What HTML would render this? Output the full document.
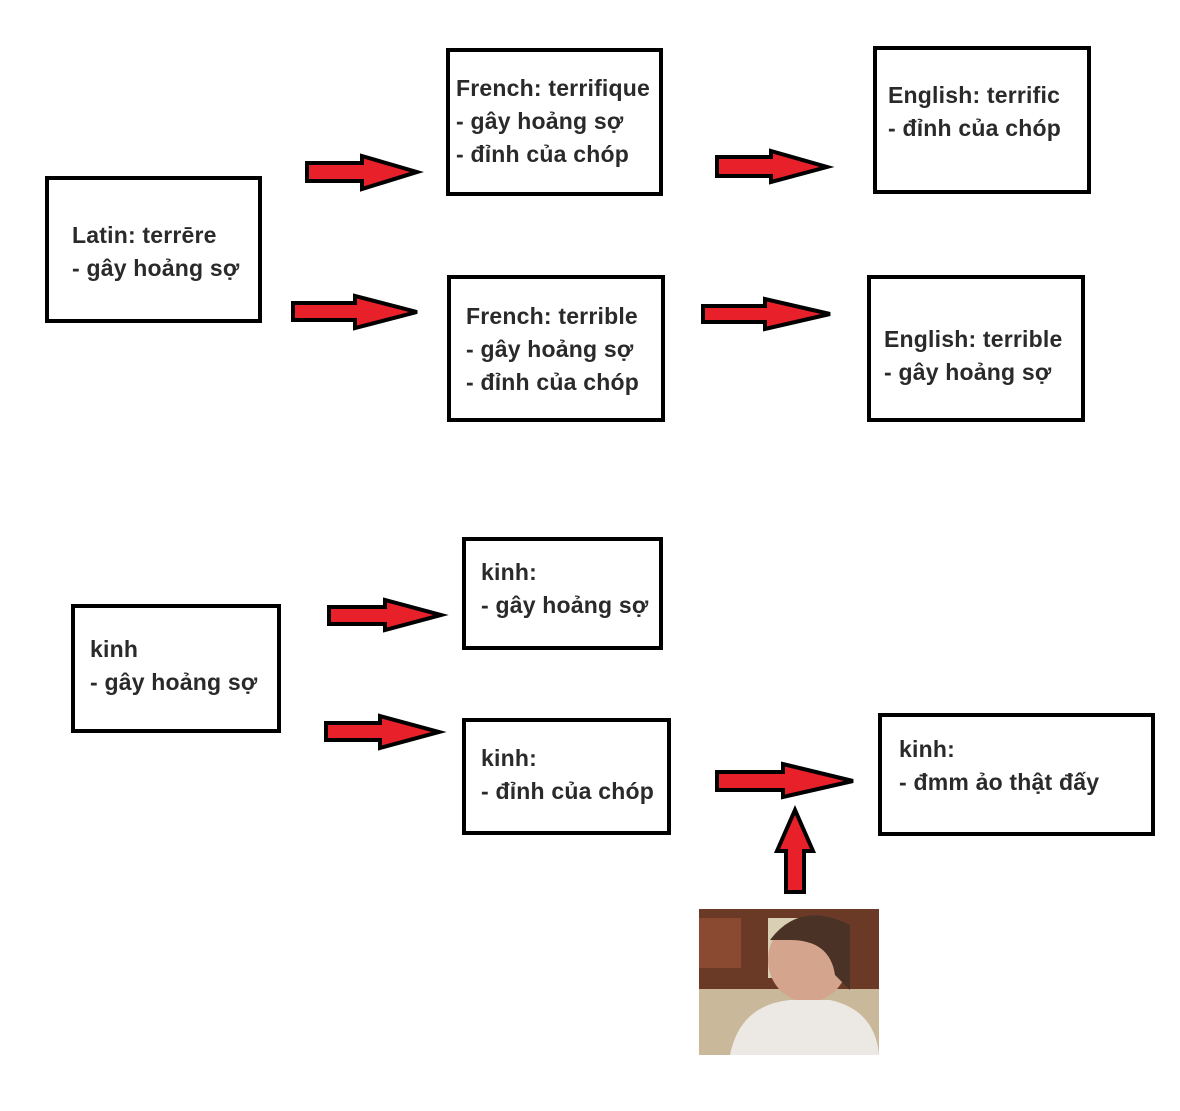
<!DOCTYPE html>
<html><head><meta charset="utf-8"><style>
body{margin:0;width:1180px;height:1111px;background:#fff;position:relative;overflow:hidden;font-family:"Liberation Sans",sans-serif}
.b{position:absolute;border:4px solid #000;box-sizing:border-box;background:#fff}
.t{position:absolute;font-weight:bold;font-size:23px;line-height:33px;color:#2a2a2a;white-space:nowrap;letter-spacing:0.2px}
svg{position:absolute;left:0;top:0}
</style></head><body>
<div class="b" style="left:45px;top:176px;width:217px;height:147px"></div>
<div class="t" style="left:72px;top:219px">Latin: terrēre<br>- gây hoảng sợ</div>
<div class="b" style="left:446px;top:48px;width:217px;height:148px"></div>
<div class="t" style="left:456px;top:72px">French: terrifique<br>- gây hoảng sợ<br>- đỉnh của chóp</div>
<div class="b" style="left:873px;top:46px;width:218px;height:148px"></div>
<div class="t" style="left:888px;top:79px">English: terrific<br>- đỉnh của chóp</div>
<div class="b" style="left:447px;top:275px;width:218px;height:147px"></div>
<div class="t" style="left:466px;top:300px">French: terrible<br>- gây hoảng sợ<br>- đỉnh của chóp</div>
<div class="b" style="left:867px;top:275px;width:218px;height:147px"></div>
<div class="t" style="left:884px;top:323px">English: terrible<br>- gây hoảng sợ</div>
<div class="b" style="left:462px;top:537px;width:201px;height:113px"></div>
<div class="t" style="left:481px;top:556px">kinh:<br>- gây hoảng sợ</div>
<div class="b" style="left:71px;top:604px;width:210px;height:129px"></div>
<div class="t" style="left:90px;top:633px">kinh<br>- gây hoảng sợ</div>
<div class="b" style="left:462px;top:718px;width:209px;height:117px"></div>
<div class="t" style="left:481px;top:742px">kinh:<br>- đỉnh của chóp</div>
<div class="b" style="left:878px;top:713px;width:277px;height:123px"></div>
<div class="t" style="left:899px;top:733px">kinh:<br>- đmm ảo thật đấy</div>
<svg width="1180" height="1111">
<g fill="#e8202a" stroke="#000" stroke-width="4" stroke-linejoin="miter">
<polygon points="307,163 362,163 362,156 417,172 362,189 362,181 307,181"/>
<polygon points="293,303 355,303 355,296 417,312 355,328 355,320 293,320"/>
<polygon points="717,157 771,157 771,151 827,167 771,182 771,176 717,176"/>
<polygon points="703,306 765,306 765,299 830,314 765,329 765,322 703,322"/>
<polygon points="329,607 385,607 385,600 441,615 385,630 385,624 329,624"/>
<polygon points="326,723 380,723 380,716 439,732 380,748 380,740 326,740"/>
<polygon points="717,772 783,772 783,764 853,781 783,797 783,790 717,790"/>
<polygon points="786,892 786,851 777,851 795,810 813,851 804,851 804,892"/>
</g>
<rect x="699" y="909" width="180" height="146" fill="#c9b899"/>
<rect x="699" y="909" width="180" height="80" fill="#6b3a26"/>
<rect x="768" y="918" width="30" height="60" fill="#d8cfb5"/>
<rect x="699" y="918" width="42" height="50" fill="#8a4a32"/>
<ellipse cx="808" cy="960" rx="40" ry="42" fill="#d5a48c"/>
<path d="M770 940 Q800 900 850 925 L850 990 L835 975 Q830 940 790 940 Z" fill="#4a3226"/>
<path d="M730 1055 Q740 1005 790 1000 L830 1000 Q875 1010 879 1055 Z" fill="#ece9e4"/>
</svg>
</body></html>
